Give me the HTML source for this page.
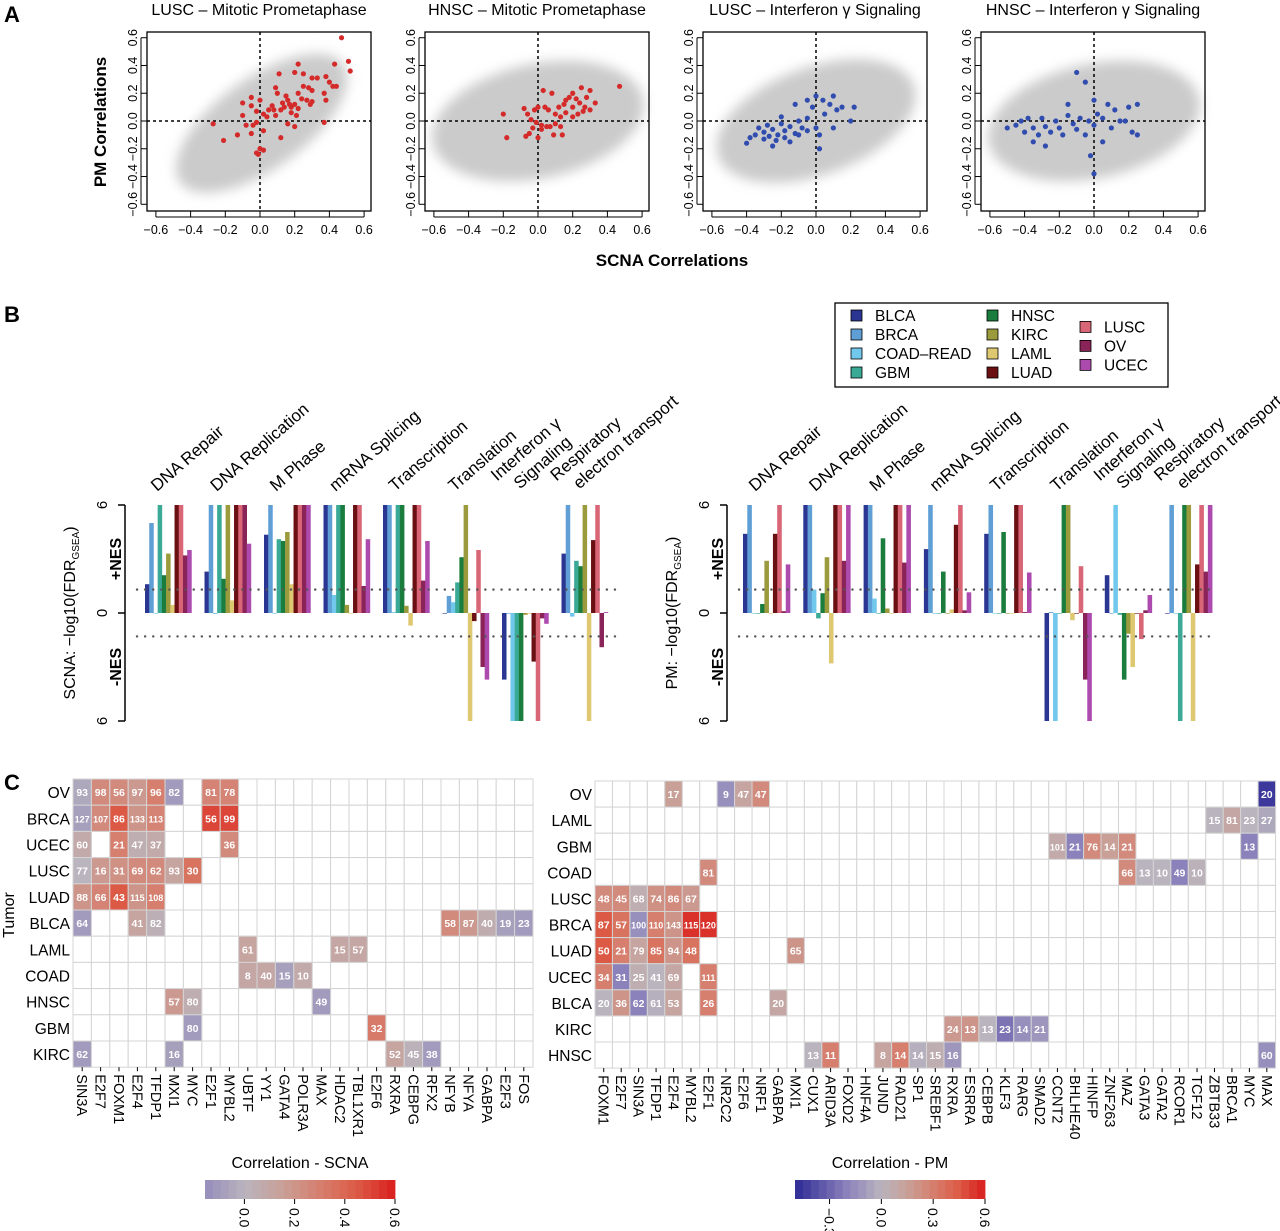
<!DOCTYPE html>
<html><head><meta charset="utf-8"><style>
body{margin:0;background:#fff;width:1280px;height:1231px;overflow:hidden}
svg{display:block;font-family:"Liberation Sans",sans-serif}
</style></head><body>
<svg id="fig" width="1280" height="1231" viewBox="0 0 1280 1231" xmlns="http://www.w3.org/2000/svg">
<defs><filter id="blur" x="-50%" y="-50%" width="200%" height="200%"><feGaussianBlur stdDeviation="6"/></filter></defs>
<text x="4" y="22" font-size="22" font-weight="bold">A</text>
<text x="4" y="322" font-size="22" font-weight="bold">B</text>
<text x="4" y="790" font-size="22" font-weight="bold">C</text>
<text transform="translate(106,122) rotate(-90)" text-anchor="middle" font-size="17" font-weight="bold">PM Correlations</text>
<text x="672" y="266" text-anchor="middle" font-size="17" font-weight="bold">SCNA Correlations</text>
<g id="A"></g><g id="B"></g><g id="C"></g>
</svg>
<script>
// ---------- Panel A data ----------
const scTitles=["LUSC – Mitotic Prometaphase","HNSC – Mitotic Prometaphase","LUSC – Interferon γ Signaling","HNSC – Interferon γ Signaling"];
const scTicks=[-0.6,-0.4,-0.2,0.0,0.2,0.4,0.6];
const sc1X=[0.47,0.51,0.52,0.43,0.22,0.11,0.2,0.25,0.3,0.33,0.38,0.4,0.42,0.44,0.37,0.38,0.3,0.28,0.25,0.22,0.24,0.27,0.29,0.3,0.15,0.16,0.17,0.18,0.14,0.13,0.2,0.22,0.09,0.1,0.07,0.08,0.12,0.18,0.21,0.09,0.05,0.02,0.04,-0.05,-0.1,-0.05,-0.1,-0.02,0.0,0.16,0.2,0.37,0.12,-0.27,-0.21,-0.13,-0.05,-0.08,-0.04,-0.02,0.02,0.0,-0.02,0.02,-0.01];
const sc1Y=[0.6,0.43,0.36,0.41,0.41,0.34,0.35,0.34,0.31,0.31,0.32,0.28,0.25,0.25,0.2,0.15,0.22,0.24,0.25,0.2,0.16,0.15,0.12,0.14,0.18,0.15,0.12,0.1,0.1,0.13,0.12,0.09,0.24,0.2,0.11,0.08,0.08,0.06,0.04,0.04,0.08,0.05,0.03,0.17,0.13,0.11,0.04,0.07,0.15,-0.02,-0.04,-0.01,-0.12,-0.02,-0.14,-0.1,-0.09,-0.03,-0.03,-0.01,-0.07,-0.2,-0.23,-0.21,-0.24];
const sc2X=[0.47,0.3,0.33,0.28,0.25,0.2,0.22,0.18,0.24,0.27,0.26,0.23,0.2,0.15,0.12,0.16,0.13,0.1,0.06,0.04,0.08,0.03,0.0,-0.02,-0.06,-0.08,-0.04,-0.01,0.02,0.05,0.07,0.1,0.13,0.14,0.09,0.02,-0.03,-0.05,-0.07,0.0,-0.18,-0.2,0.2,0.3,0.16];
const sc2Y=[0.25,0.22,0.13,0.17,0.24,0.2,0.16,0.17,0.13,0.1,0.07,0.05,0.1,0.12,0.1,0.06,0.03,0.05,0.08,0.1,0.2,0.22,0.1,0.08,0.05,0.09,0.01,-0.01,-0.03,-0.04,-0.04,-0.02,-0.04,-0.1,-0.1,-0.06,-0.05,-0.09,-0.11,-0.12,-0.12,0.05,0.03,0.08,0.15];
const sc3X=[-0.4,-0.38,-0.35,-0.33,-0.3,-0.28,-0.25,-0.22,-0.2,-0.18,-0.15,-0.12,-0.1,-0.08,-0.05,-0.3,-0.27,-0.23,-0.18,-0.15,-0.1,-0.05,0.0,0.02,-0.02,0.04,0.05,0.08,0.1,0.12,0.15,0.22,0.2,0.0,-0.05,-0.12,-0.2,0.02,-0.25,0.1];
const sc3Y=[-0.16,-0.12,-0.1,-0.05,-0.08,-0.03,-0.06,-0.1,-0.02,-0.07,-0.04,-0.09,0.0,-0.05,0.02,-0.13,-0.11,-0.14,-0.12,-0.15,-0.1,-0.07,-0.05,-0.1,0.1,0.15,0.05,0.12,0.18,0.08,0.1,0.1,0.0,0.18,0.15,0.12,0.03,-0.2,-0.18,-0.05];
const sc4X=[-0.45,-0.5,-0.42,-0.4,-0.38,-0.35,-0.32,-0.3,-0.28,-0.25,-0.22,-0.2,-0.18,-0.15,-0.12,-0.1,-0.08,-0.05,-0.03,0.0,0.02,0.05,0.1,0.12,0.15,0.2,0.22,0.25,-0.1,-0.05,0.0,-0.35,-0.28,0.05,-0.02,0.0,0.08,-0.15,0.25,0.18];
const sc4Y=[-0.03,-0.05,0.0,-0.08,0.02,-0.05,-0.1,0.02,-0.04,-0.08,0.0,-0.05,-0.1,0.04,-0.02,-0.06,0.02,-0.1,0.0,-0.03,0.05,0.02,-0.05,0.08,0.0,0.1,-0.08,0.12,0.35,0.28,0.15,-0.15,-0.18,-0.15,-0.25,-0.38,0.12,0.12,-0.1,0.0];
// ---------- Panel B data ----------
const tumors=["BLCA","BRCA","COAD–READ","GBM","HNSC","KIRC","LAML","LUAD","LUSC","OV","UCEC"];
const tumorColors=["#2b3592","#5f9fd6","#72c8ec","#3aa995","#1b7d3d","#9b9a3c","#dfc872","#6a0f12","#d86676","#8a2358","#ad4aae"];
const categories=["DNA Repair","DNA Replication","M Phase","mRNA Splicing","Transcription","Translation","Interferon γ|Signaling","Respiratory|electron transport"];
const scnaVals=[
[1.6,5.0,0,6,2.1,3.3,0.45,6,6,3.2,3.5],
[2.3,6,-0.05,6,1.9,6,0.7,6,6,6,3.85],
[4.35,6,0,4.1,4.0,4.5,1.6,6,6,6,6],
[6,6,1.0,6,6,0.45,0,6,6,1.5,4.1],
[6,6,0.05,6,6,0.4,-0.7,6,6,1.8,4.0],
[0,0.95,0.6,1.7,3.1,6,-6,-0.45,3.5,-3.0,-3.7],
[-3.7,0,-6,-6,-6,-0.1,0,-2.7,-6,-0.3,-0.6],
[3.3,6,-0.2,2.9,2.6,6,-6,4.05,6,-1.9,0.05]];
const pmVals=[
[4.4,6,0,0,0.5,2.9,0,4.4,6,0.1,2.7],
[6,6,1.3,-0.3,1.1,3.1,-2.8,6,6,2.9,6],
[6,6,0.8,0,4.15,0.25,0,6,6,2.8,6],
[3.55,6,0,0,2.3,0,0.2,4.9,6,0.15,1.15],
[4.4,6,0,0,4.5,0,0,6,6,0.05,2.25],
[-6,0.05,-6,0,6,6,-0.4,0,2.6,-3.7,-6],
[2.1,0,6,-0.1,-3.7,-1.15,-3.0,0,-1.45,0.15,1.0],
[0,6,0,-6,6,6,-6,2.7,6,2.3,6]];
// ---------- Panel C data ----------
const scnaRows=["OV","BRCA","UCEC","LUSC","LUAD","BLCA","LAML","COAD","HNSC","GBM","KIRC"];
const scnaCols=["SIN3A","E2F7","FOXM1","E2F4","TFDP1","MXI1","MYC","E2F1","MYBL2","UBTF","YY1","GATA4","POLR3A","MAX","HDAC2","TBL1XR1","E2F6","RXRA","CEBPG","RFX2","NFYB","NFYA","GABPA","E2F3","FOS"];
const scnaCells=[[0,0,93,-0.05],[0,1,98,0.25],[0,2,56,0.25],[0,3,97,0.18],[0,4,96,0.3],[0,5,82,-0.1],[0,7,81,0.28],[0,8,78,0.28],
[1,0,127,-0.08],[1,1,107,0.25],[1,2,86,0.45],[1,3,133,0.2],[1,4,113,0.28],[1,7,56,0.5],[1,8,99,0.5],
[2,0,60,0.08],[2,2,21,0.3],[2,3,47,0.05],[2,4,37,0.08],[2,8,36,0.25],
[3,0,77,0.0],[3,1,16,0.18],[3,2,31,0.22],[3,3,69,0.25],[3,4,62,0.25],[3,5,93,0.12],[3,6,30,0.35],
[4,0,88,0.2],[4,1,66,0.28],[4,2,43,0.45],[4,3,115,0.2],[4,4,108,0.3],
[5,0,64,-0.1],[5,3,41,0.12],[5,4,82,0.03],[5,20,58,0.25],[5,21,87,0.18],[5,22,40,0.06],[5,23,19,-0.08],[5,24,23,-0.1],
[6,9,61,0.12],[6,14,15,0.1],[6,15,57,0.1],
[7,9,8,0.1],[7,10,40,0.1],[7,11,15,-0.08],[7,12,10,0.08],
[8,5,57,0.18],[8,6,80,0.05],[8,13,49,-0.1],
[9,6,80,-0.1],[9,16,32,0.32],
[10,0,62,-0.1],[10,5,16,-0.08],[10,17,52,0.12],[10,18,45,0.02],[10,19,38,-0.1]];
const pmRows=["OV","LAML","GBM","COAD","LUSC","BRCA","LUAD","UCEC","BLCA","KIRC","HNSC"];
const pmCols=["FOXM1","E2F7","SIN3A","TFDP1","E2F4","MYBL2","E2F1","NR2C2","E2F6","NRF1","GABPA","MXI1","CUX1","ARID3A","FOXD2","HNF4A","JUND","RAD21","SP1","SREBF1","RXRA","ESRRA","CEBPB","KLF3","RARG","SMAD2","CCNT2","BHLHE40","HINFP","ZNF263","MAZ","GATA3","GATA2","RCOR1","TCF12","ZBTB33","BRCA1","MYC","MAX"];
const pmCells=[[0,4,17,0.15],[0,7,9,-0.15],[0,8,47,0.12],[0,9,47,0.25],[0,38,20,-0.45],
[1,35,15,0.0],[1,36,81,0.1],[1,37,23,0.0],[1,38,27,-0.05],
[2,26,101,0.08],[2,27,21,-0.2],[2,28,76,0.25],[2,29,14,0.15],[2,30,21,0.25],[2,37,13,-0.2],
[3,6,81,0.25],[3,30,66,0.25],[3,31,13,0.0],[3,32,10,0.0],[3,33,49,-0.2],[3,34,10,0.02],
[4,0,48,0.25],[4,1,45,0.25],[4,2,68,0.05],[4,3,74,0.22],[4,4,86,0.25],[4,5,67,0.18],
[5,0,87,0.45],[5,1,57,0.35],[5,2,100,-0.15],[5,3,110,0.3],[5,4,143,0.2],[5,5,115,0.55],[5,6,120,0.55],
[6,0,50,0.45],[6,1,21,0.3],[6,2,79,0.12],[6,3,85,0.35],[6,4,94,0.2],[6,5,48,0.35],[6,11,65,0.2],
[7,0,34,0.3],[7,1,31,-0.2],[7,2,25,0.05],[7,3,41,0.0],[7,4,69,0.1],[7,6,111,0.3],
[8,0,20,0.0],[8,1,36,0.2],[8,2,62,-0.2],[8,3,61,-0.02],[8,4,53,0.12],[8,6,26,0.3],[8,10,20,0.1],
[9,20,24,0.18],[9,21,13,0.2],[9,22,13,0.0],[9,23,23,-0.25],[9,24,14,-0.15],[9,25,21,-0.12],
[10,12,13,0.0],[10,13,11,0.3],[10,16,8,0.12],[10,17,14,0.3],[10,18,14,-0.02],[10,19,15,0.05],[10,20,16,-0.12],[10,38,60,-0.15]];
const scnaBarTicks=[0.0,0.2,0.4,0.6];
const pmBarTicks=[-0.3,0.0,0.3,0.6];

const NS="http://www.w3.org/2000/svg";
function mk(tag,attrs,parent,txt){const e=document.createElementNS(NS,tag);for(const k in attrs)e.setAttribute(k,attrs[k]);if(txt!==undefined)e.textContent=txt;(parent||document.getElementById('fig')).appendChild(e);return e;}
const stops=[[-0.5,[45,42,150]],[-0.2,[140,130,187]],[0,[185,180,190]],[0.15,[201,160,152]],[0.3,[214,127,110]],[0.45,[220,90,69]],[0.6,[217,30,30]]];
function col(v){if(v<=stops[0][0])return 'rgb('+stops[0][1]+')';for(let i=1;i<stops.length;i++){if(v<=stops[i][0]){const a=stops[i-1],b=stops[i],t=(v-a[0])/(b[0]-a[0]);return 'rgb('+a[1].map((c,j)=>Math.round(c+(b[1][j]-c)*t)).join(',')+')';}}return 'rgb('+stops[stops.length-1][1]+')';}

// ---------- Panel A ----------
const A=document.getElementById('A');
const scX=[sc1X,sc2X,sc3X,sc4X],scY=[sc1Y,sc2Y,sc3Y,sc4Y];
const clouds=[[0.0,-0.02,0.58,0.26,-36],[0,0,0.62,0.33,-12],[0,0,0.6,0.31,-20],[0,0,0.62,0.33,-12]];
for(let p=0;p<4;p++){
  const fl=147+p*278,fr=fl+224,ft=32,fb=211,cx=fl+113,cy=121,u=173.5;
  const xs=v=>cx+v*u,ys=v=>cy-v*u/1.25;
  const g=mk('g',{},A);
  
  
  const t=mk('text',{x:fl+112,y:15,'text-anchor':'middle','font-size':16},g,scTitles[p]);
  
  
  const c=clouds[p];
  const el=mk('ellipse',{cx:xs(c[0]),cy:ys(c[1]),rx:c[2]*u,ry:c[3]*u,fill:'#cbcbcb',transform:`rotate(${c[4]} ${xs(0)} ${ys(0)})`,filter:'url(#blur)'},g);
  
  
  mk('line',{x1:fl,x2:fr,y1:ys(0),y2:ys(0),stroke:'#000','stroke-dasharray':'3,3','stroke-width':1.5},g);
  mk('line',{x1:xs(0),x2:xs(0),y1:ft,y2:fb,stroke:'#000','stroke-dasharray':'3,3','stroke-width':1.5},g);
  const pc=p<2?'#d42a2a':'#2f4cae';
  for(let i=0;i<scX[p].length;i++){
    const d=mk('circle',{cx:xs(scX[p][i]),cy:ys(scY[p][i]),r:2.6,fill:pc},g);
    
    
  }
  mk('rect',{x:fl,y:ft,width:224,height:179,fill:'none',stroke:'#000','stroke-width':1.3},g);
  scTicks.forEach(v=>{
    mk('line',{x1:xs(v),x2:xs(v),y1:fb,y2:fb+6,stroke:'#000'},g);
    mk('text',{x:xs(v),y:fb+23,'text-anchor':'middle','font-size':12.5},g,v.toFixed(1).replace('-','−'));
    mk('line',{x1:fl,x2:fl-6,y1:ys(v),y2:ys(v),stroke:'#000'},g);
    mk('text',{transform:`translate(${fl-10},${ys(v)}) rotate(-90)`,'text-anchor':'middle','font-size':12.5},g,v.toFixed(1).replace('-','−'));
  });
  mk('line',{x1:xs(-0.6),x2:xs(0.6),y1:fb+6,y2:fb+6,stroke:'#000'},g);
  mk('line',{x1:fl-6,x2:fl-6,y1:ys(0.6),y2:ys(-0.6),stroke:'#000'},g);
}

// ---------- Panel B ----------
const B=document.getElementById('B');
const lg=mk('g',{},B);


mk('rect',{x:835,y:303,width:333,height:84,fill:'#fff',stroke:'#000','stroke-width':1.3},lg);
const legPos=[[0,0],[0,1],[0,2],[0,3],[1,0],[1,1],[1,2],[1,3],[2,0.6],[2,1.6],[2,2.6]];
tumors.forEach((tm,i)=>{
  const x=[851,987,1080][legPos[i][0]],y=310+legPos[i][1]*19;
  const it=mk('g',{},lg);
  
  
  mk('rect',{x:x,y:y,width:11,height:11,fill:tumorColors[i],stroke:'#000','stroke-width':0.8},it);
  mk('text',{x:x+24,y:y+11,'font-size':15.5},it,tm);
});
function barChart(ax,g0,gw,vals,lab,name,xEnd){
  const g=mk('g',{},B);
  
  
  const y0=613,uy=18,bw=gw*0.78/11;
  const ys=v=>y0-v*uy;
  mk('line',{x1:ax,x2:ax,y1:ys(6),y2:ys(-6),stroke:'#000','stroke-width':1.5},g);
  [6,0,-6].forEach(v=>{mk('line',{x1:ax,x2:ax-7,y1:ys(v),y2:ys(v),stroke:'#000','stroke-width':1.5},g);
    mk('text',{transform:`translate(${ax-18},${ys(v)}) rotate(-90)`,'text-anchor':'middle','font-size':15},g,String(Math.abs(v)));});
  mk('text',{transform:`translate(${ax-4},${ys(3)}) rotate(-90)`,'text-anchor':'middle','font-size':16,'font-weight':'bold'},g,'+NES');
  mk('text',{transform:`translate(${ax-4},${ys(-3)}) rotate(-90)`,'text-anchor':'middle','font-size':16,'font-weight':'bold'},g,'-NES');
  const yl=mk('text',{transform:`translate(${ax-50},${y0}) rotate(-90)`,'text-anchor':'middle','font-size':16},g);
  
  
  yl.innerHTML=lab+': −log10(FDR<tspan font-size="10" dy="4">GSEA</tspan><tspan dy="-4">)</tspan>';
  vals.forEach((gv,gi)=>{
    const gx=g0+gi*gw;
    gv.forEach((v,ti)=>{
      const x=gx+ti*bw;
      const r=mk('rect',{x:x,y:Math.min(ys(v),y0),width:bw+0.3,height:Math.max(Math.abs(v*uy),0.6),fill:tumorColors[ti]},g);
      
      
    });
    const parts=categories[gi].split('|');
    const tx=mk('text',{transform:`translate(${gx+12},${492}) rotate(-41)`,'font-size':17},g);
    
    
    if(parts.length===1)tx.textContent=parts[0];
    else{mk('tspan',{x:-6,dy:-19},tx,parts[0]);mk('tspan',{x:6,dy:21},tx,parts[1]);}
  });
  [1.3,-1.3].forEach(v=>mk('line',{x1:ax+12,x2:xEnd,y1:ys(v),y2:ys(v),stroke:'#555','stroke-width':2.4,'stroke-dasharray':'0.1,8','stroke-linecap':'round'},g));
}
barChart(125,145,59.5,scnaVals,'SCNA','scna-bar-chart',620);
barChart(727,743,60.3,pmVals,'PM','pm-bar-chart',1215);

// ---------- Panel C ----------
const C=document.getElementById('C');
mk('text',{transform:'translate(14,915) rotate(-90)','text-anchor':'middle','font-size':16},C,'Tumor');
function heatmap(x0,y0,cw,rh,rows,cols,cells,name){
  const g=mk('g',{},C);
  
  
  for(let r=0;r<rows.length;r++){
    for(let c=0;c<cols.length;c++)mk('rect',{x:x0+c*cw,y:y0+r*rh,width:cw,height:rh,fill:'#fff',stroke:'#d4d4d4','stroke-width':1},g);
    mk('text',{x:x0-3,y:y0+r*rh+rh/2+6,'text-anchor':'end','font-size':15.5},g,rows[r]);
  }
  cells.forEach(d=>{
    const cell=mk('rect',{x:x0+d[1]*cw,y:y0+d[0]*rh,width:cw,height:rh,fill:col(d[3]),stroke:'#d4d4d4','stroke-width':1},g);
    
    
    mk('text',{x:x0+d[1]*cw+cw/2,y:y0+d[0]*rh+rh/2+4,'text-anchor':'middle','font-size':d[2]>=100?9:10.5,'font-weight':'bold',fill:'#fff'},g,String(d[2]));
  });
  const yb=y0+rows.length*rh;
  cols.forEach((c,i)=>{
    mk('line',{x1:x0+i*cw+cw/2,x2:x0+i*cw+cw/2,y1:yb,y2:yb+4,stroke:'#000'},g);
    mk('text',{transform:`translate(${x0+i*cw+cw/2-5},${yb+7}) rotate(90)`,'font-size':14.5},g,c);
  });
}
heatmap(73,779,18.4,26.2,scnaRows,scnaCols,scnaCells,'scna-heatmap');
heatmap(595,781,17.45,26.1,pmRows,pmCols,pmCells,'pm-heatmap');
function colorBar(x0,x1,vmin,vmax,ticks,title,name){
  const g=mk('g',{},C);
  
  
  mk('text',{x:(x0+x1)/2,y:1168,'text-anchor':'middle','font-size':16},g,title);
  const n=24,w=(x1-x0)/n;
  for(let i=0;i<n;i++)mk('rect',{x:x0+i*w,y:1180,width:w+0.4,height:19,fill:col(vmin+(vmax-vmin)*(i+0.5)/n)},g);
  const xs=v=>x0+(v-vmin)/(vmax-vmin)*(x1-x0);
  ticks.forEach(v=>{mk('line',{x1:xs(v),x2:xs(v),y1:1199,y2:1204,stroke:'#000'},g);
    mk('text',{transform:`translate(${xs(v)-5},${1208}) rotate(90)`,'font-size':14},g,v.toFixed(1).replace('-','−'));});
}
colorBar(205,395,-0.157,0.6,scnaBarTicks,'Correlation - SCNA','scna-color-legend');
colorBar(795,985,-0.5,0.6,pmBarTicks,'Correlation - PM','pm-color-legend');
</script>
</body></html>
